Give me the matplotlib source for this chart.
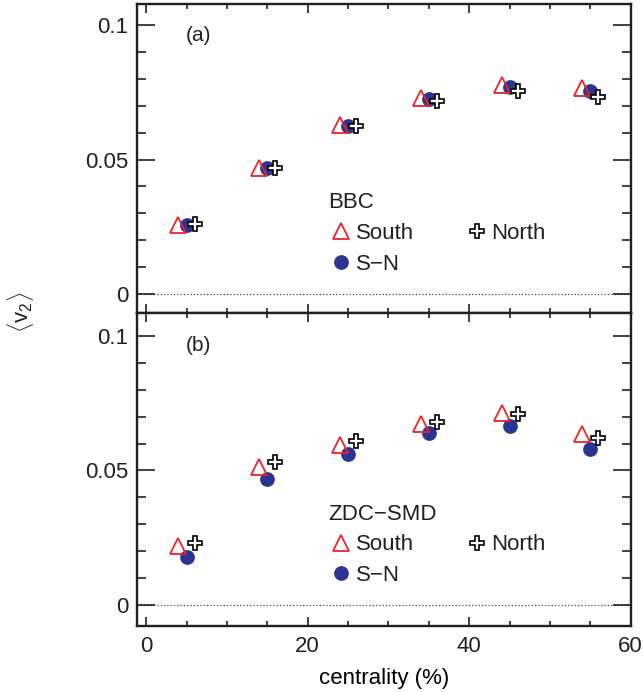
import matplotlib
matplotlib.use('Agg')
import matplotlib.pyplot as plt
from matplotlib.ticker import MultipleLocator

plt.rcParams['font.family'] = ['Liberation Sans', 'DejaVu Sans']
plt.rcParams['mathtext.fontset'] = 'custom'
plt.rcParams['mathtext.rm'] = 'Liberation Sans'
plt.rcParams['mathtext.it'] = 'Liberation Sans:italic'
plt.rcParams['text.color'] = '#231f20'

# centrality bin centres (%) and the small horizontal shift used per detector side
centrality = [5, 15, 25, 35, 45, 55]
shift = {'South': -1.0, 'S-N': 0.0, 'North': 1.0}

# BBC event plane
bbc_south = [0.0257, 0.0469, 0.0628, 0.0730, 0.0778, 0.0765]
bbc_sn = [0.0257, 0.0467, 0.0626, 0.0724, 0.0771, 0.0756]
bbc_north = [0.0259, 0.0467, 0.0626, 0.0719, 0.0756, 0.0733]

# ZDC-SMD event plane
zdc_south = [0.0220, 0.0512, 0.0595, 0.0674, 0.0713, 0.0637]
zdc_sn = [0.0176, 0.0467, 0.0560, 0.0638, 0.0666, 0.0578]
zdc_north = [0.0231, 0.0532, 0.0610, 0.0679, 0.0710, 0.0619]

red = '#ec2227'
blue = '#2b3591'
fs = 16

fig = plt.figure(figsize=(6.43, 6.92), dpi=100)
ax_a = fig.add_axes([0.2135, 0.5470, 0.7674, 0.4472])
ax_b = fig.add_axes([0.2135, 0.0954, 0.7674, 0.4516], sharex=ax_a)


def draw_panel(ax, south, sn, north, title, tag, ylim):
    xs = [c + shift['South'] for c in centrality]
    xm = [c + shift['S-N'] for c in centrality]
    xn = [c + shift['North'] for c in centrality]
    h_sn, = ax.plot(xm, sn, 'o', ms=9.6, color=blue, mec=blue, zorder=3)
    h_s, = ax.plot(xs, south, '^', ms=11, mfc='none', mec=red, mew=1.3, zorder=4)
    h_n, = ax.plot(xn, north, 'P', ms=10, mfc='white', mec='black', mew=1.2, zorder=5)

    ax.axhline(0, ls=':', lw=0.9, color='#444444', zorder=1)
    ax.set_xlim(-1.1, 60)
    ax.set_ylim(*ylim)
    ax.yaxis.set_major_locator(MultipleLocator(0.05))
    ax.yaxis.set_minor_locator(MultipleLocator(0.01))
    ax.xaxis.set_major_locator(MultipleLocator(20))
    ax.xaxis.set_minor_locator(MultipleLocator(5))
    ax.set_yticks([0, 0.05, 0.1])
    ax.set_yticklabels(['0', '0.05', '0.1'])
    ax.tick_params(which='both', direction='in', top=True, right=True,
                   labelsize=fs, width=1.2, colors='#231f20')
    ax.tick_params(axis='y', which='major', length=13, pad=6.5)
    ax.tick_params(axis='y', which='minor', length=6.5)
    ax.tick_params(axis='x', which='major', length=6.5, pad=7)
    ax.tick_params(axis='x', which='minor', length=3.3)
    for sp in ax.spines.values():
        sp.set_linewidth(1.7)
        sp.set_color('#231f20')

    ax.text(0.099, 0.897, tag, transform=ax.transAxes, fontsize=15,
            ha='left', va='center')
    leg = ax.legend([h_s, h_sn, h_n], ['South', 'S\u2212N', 'North'],
                    title=title, ncol=2, frameon=False, loc='upper left',
                    bbox_to_anchor=(0.3865, 0.391), borderpad=0,
                    fontsize=fs, title_fontsize=fs, alignment='left',
                    numpoints=1, handlelength=1.2, handletextpad=0.05,
                    columnspacing=2.23, labelspacing=0.43, borderaxespad=0)
    return leg


draw_panel(ax_a, bbc_south, bbc_sn, bbc_north, 'BBC', '(a)', (-0.0072, 0.1078))
draw_panel(ax_b, zdc_south, zdc_sn, zdc_north, 'ZDC\u2212SMD', '(b)', (-0.0079, 0.1084))

ax_a.tick_params(axis='x', labelbottom=False)
ax_b.set_xticks([0, 20, 40, 60])
ax_b.set_xlabel('centrality (%)', fontsize=fs, labelpad=8)

fig.text(20 / 643, 1 - 312 / 692, r'$\langle \mathrm{v}_2 \rangle$', rotation=90,
         ha='center', va='center', fontsize=fs)

fig.savefig('out.png', dpi=100)
